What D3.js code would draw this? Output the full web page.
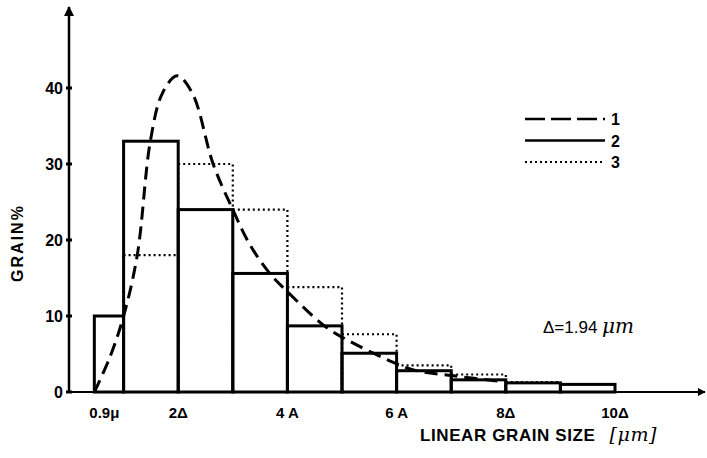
<!DOCTYPE html>
<html>
<head>
<meta charset="utf-8">
<script src="https://cdn.jsdelivr.net/npm/d3@7"></script>
<style>
  body { margin: 0; background: #fff; }
  text { font-family: "Liberation Sans", Arial, sans-serif; fill: #000; }
</style>
</head>
<body>
<script>
// size of the page
var w = 707;
var h = 458;

// bins in units of delta (delta = 1.94 um), first bin starts at 0.9 um
var binStart = [0.464, 1, 2, 3, 4, 5, 6, 7, 8, 9];
var binEnd   = [1, 2, 3, 4, 5, 6, 7, 8, 9, 10];
// curve 2 (solid histogram)
var series2 = [10, 33, 24, 15.6, 8.7, 5.1, 2.8, 1.6, 1.2, 1.0];
// curve 3 (dotted histogram), null = not drawn
var series3 = [null, 18, 30, 24, 13.8, 7.6, 3.5, 2.3, 1.3, null];
// curve 1 (dashed distribution), x in delta, y in %
var curveX = [0.464, 0.75, 1.0, 1.25, 1.49, 1.71, 1.98, 2.26, 2.64, 3.0, 3.32, 3.69, 4.0, 4.66, 5.03, 5.94, 6.31, 7.08, 7.9];
var curveY = [0, 4.6, 10, 18, 33, 39.3, 41.6, 39.3, 30, 24, 19.3, 15.5, 13.2, 8.8, 7.1, 3.9, 2.9, 2.1, 1.4];

var yTicks = [0, 10, 20, 30, 40];
var xTickPos = [0.464, 2, 4, 6, 8, 10];
var xTickLabels = ["0.9μ", "2Δ", "4 A", "6 A", "8Δ", "10Δ"];
var legendLabels = ["1", "2", "3"];

var x = d3.scaleLinear().domain([0, 10]).range([69, 615]);
var y = d3.scaleLinear().domain([0, 40]).range([392, 88]);

var svg = d3.select("body")
  .append("svg")
  .attr("width", w)
  .attr("height", h);

// arrow heads
var defs = svg.append("defs");
defs.append("marker")
  .attr("id", "arrow")
  .attr("viewBox", "0 0 10 10")
  .attr("refX", 9).attr("refY", 5)
  .attr("markerWidth", 4).attr("markerHeight", 4)
  .attr("orient", "auto")
  .append("path")
  .attr("d", "M0,0 L10,5 L0,10 Z")
  .attr("fill", "#000");

// axes
svg.append("line")
  .attr("x1", x(0)).attr("y1", y(0))
  .attr("x2", 705).attr("y2", y(0))
  .attr("stroke", "#000").attr("stroke-width", 2)
  .attr("marker-end", "url(#arrow)");
svg.append("line")
  .attr("x1", x(0)).attr("y1", y(0) + 1)
  .attr("x2", x(0)).attr("y2", 7)
  .attr("stroke", "#000").attr("stroke-width", 2.5)
  .attr("marker-end", "url(#arrow)");

// y ticks
svg.selectAll(".ytick")
  .data(yTicks)
  .enter()
  .append("line")
  .attr("x1", x(0) - 3).attr("x2", x(0) + 3)
  .attr("y1", function(d) { return y(d); })
  .attr("y2", function(d) { return y(d); })
  .attr("stroke", "#000").attr("stroke-width", 3);

svg.selectAll(".ylab")
  .data(yTicks)
  .enter()
  .append("text")
  .text(function(d) { return d; })
  .attr("x", x(0) - 6)
  .attr("y", function(d) { return y(d) + 6; })
  .attr("text-anchor", "end")
  .attr("font-size", "16px")
  .attr("font-weight", "bold");

// x tick labels
svg.selectAll(".xlab")
  .data(xTickPos)
  .enter()
  .append("text")
  .text(function(d, i) { return xTickLabels[i]; })
  .attr("x", function(d, i) { return x(d) + (i == 0 ? 10 : 0); })
  .attr("y", 418)
  .attr("text-anchor", "middle")
  .attr("font-size", "15px")
  .attr("font-weight", "bold");

// dotted histogram (drawn first, solid bars cover shared edges)
var i3 = d3.range(binStart.length).filter(function(i) { return series3[i] != null; });
svg.selectAll(".bar3")
  .data(i3)
  .enter()
  .append("rect")
  .attr("x", function(i) { return x(binStart[i]); })
  .attr("y", function(i) { return y(series3[i]); })
  .attr("width", function(i) { return x(binEnd[i]) - x(binStart[i]); })
  .attr("height", function(i) { return y(0) - y(series3[i]); })
  .attr("fill", "none")
  .attr("stroke", "#000")
  .attr("stroke-width", 2.2)
  .attr("stroke-dasharray", "2,3");

// solid histogram
svg.selectAll(".bar2")
  .data(series2)
  .enter()
  .append("rect")
  .attr("x", function(d, i) { return x(binStart[i]); })
  .attr("y", function(d) { return y(d); })
  .attr("width", function(d, i) { return x(binEnd[i]) - x(binStart[i]); })
  .attr("height", function(d) { return y(0) - y(d); })
  .attr("fill", "none")
  .attr("stroke", "#000")
  .attr("stroke-width", 3);

// dashed curve
var line = d3.line()
  .x(function(d, i) { return x(curveX[i]); })
  .y(function(d) { return y(d); })
  .curve(d3.curveCatmullRom.alpha(0.5));

svg.append("path")
  .attr("d", line(curveY))
  .attr("fill", "none")
  .attr("stroke", "#000")
  .attr("stroke-width", 3)
  .attr("stroke-dasharray", "13,7");

// legend
var dashes = ["20,6", null, "2,3"];
legendLabels.forEach(function(l, i) {
  var ly = 119 + i * 21.5;
  svg.append("line")
    .attr("x1", 525).attr("x2", 605)
    .attr("y1", ly).attr("y2", ly)
    .attr("stroke", "#000")
    .attr("stroke-width", i == 2 ? 2 : 2.5)
    .attr("stroke-dasharray", dashes[i]);
  svg.append("text")
    .text(l)
    .attr("x", 611).attr("y", ly + 6)
    .attr("font-size", "16px")
    .attr("font-weight", "bold");
});

// delta note
var dn = svg.append("text")
  .attr("x", 543).attr("y", 333)
  .attr("font-size", "17px");
dn.append("tspan").text("Δ=1.94 ");
dn.append("tspan")
  .text("μm")
  .attr("font-family", "DejaVu Serif, serif")
  .attr("font-style", "italic")
  .attr("font-size", "20px");

// axis titles
svg.append("text")
  .text("GRAIN%")
  .attr("transform", "translate(23,243) rotate(-90)")
  .attr("text-anchor", "middle")
  .attr("font-size", "16px")
  .attr("letter-spacing", "2px")
  .attr("font-weight", "bold");

var xt = svg.append("text")
  .attr("x", 420).attr("y", 441)
  .attr("font-size", "17px")
  .attr("letter-spacing", "0.6px")
  .attr("font-weight", "bold");
xt.append("tspan").text("LINEAR GRAIN SIZE");
xt.append("tspan")
  .text("[μm]")
  .attr("dx", 14)
  .attr("font-family", "DejaVu Serif, serif")
  .attr("font-style", "italic")
  .attr("font-weight", "normal")
  .attr("font-size", "19px");
</script>
</body>
</html>
